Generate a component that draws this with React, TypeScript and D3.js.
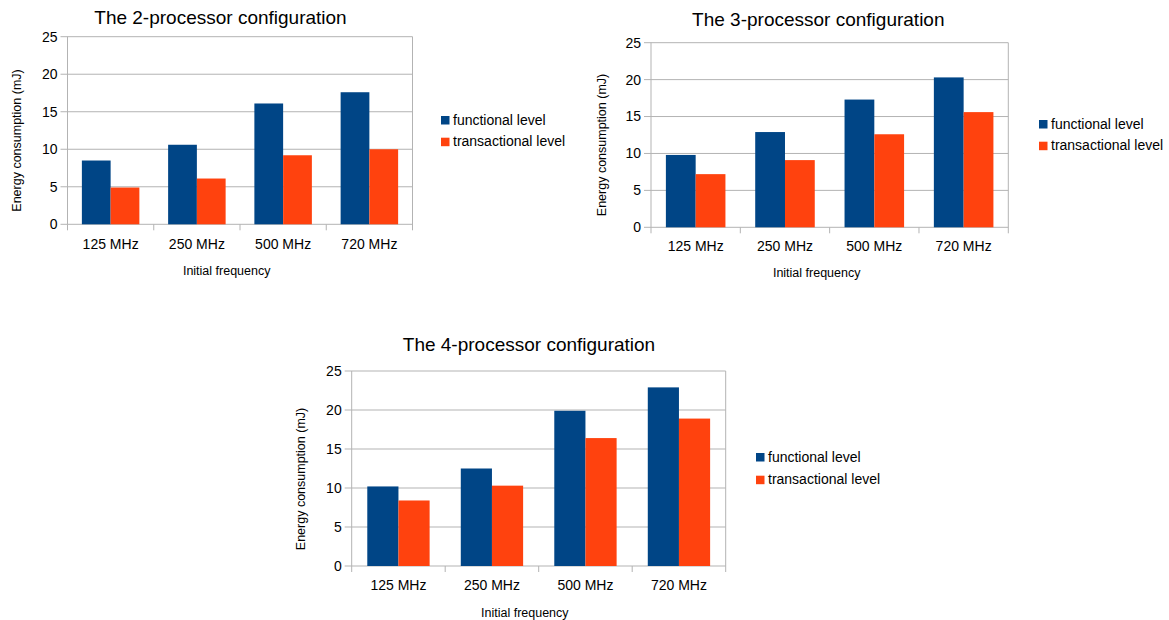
import React from "react";
import * as d3 from "d3";

const categories = ["125 MHz", "250 MHz", "500 MHz", "720 MHz"];
const seriesNames = ["functional level", "transactional level"];
const seriesColors = ["#004586", "#ff420e"];
const yTicks = [0, 5, 10, 15, 20, 25];

const titles = [
  "The 2-processor configuration",
  "The 3-processor configuration",
  "The 4-processor configuration",
];

const functional2 = [8.5, 10.6, 16.1, 17.6];
const transactional2 = [4.9, 6.1, 9.2, 10.0];
const functional3 = [9.8, 12.9, 17.3, 20.3];
const transactional3 = [7.2, 9.1, 12.6, 15.6];
const functional4 = [10.2, 12.5, 19.9, 22.9];
const transactional4 = [8.4, 10.3, 16.4, 18.9];

const yTitle = "Energy consumption (mJ)";
const xTitle = "Initial frequency";

const FONT = "'Liberation Sans', Arial, sans-serif";

type Layout = {
  x0: number; x1: number; yTop: number; yBot: number;
  titleX: number; titleY: number;
  yTitleX: number; yTitleY: number;
  xTitleX: number; xTitleY: number;
  catY: number;
  legX: number; legY: number; legRow: number;
};

const layouts: Layout[] = [
  { x0: 67.5, x1: 412.5, yTop: 36.7, yBot: 224.3, titleX: 220.5, titleY: 23.5,
    yTitleX: 17, yTitleY: 140.5, xTitleX: 226.7, xTitleY: 275, catY: 249,
    legX: 441, legY: 116, legRow: 21.7 },
  { x0: 651, x1: 1008.3, yTop: 42.7, yBot: 227.3, titleX: 818.3, titleY: 26,
    yTitleX: 601.7, yTitleY: 145, xTitleX: 816.7, xTitleY: 276.7, catY: 250.7,
    legX: 1039, legY: 120, legRow: 21.7 },
  { x0: 351.7, x1: 725.7, yTop: 371, yBot: 566, titleX: 529, titleY: 351,
    yTitleX: 300.7, yTitleY: 479, xTitleX: 524.8, xTitleY: 616.7, catY: 590,
    legX: 756, legY: 453, legRow: 22.7 },
];

const dataSets = [
  [functional2, transactional2],
  [functional3, transactional3],
  [functional4, transactional4],
];

function Chart({ layout, series, title }: { layout: Layout; series: number[][]; title: string }) {
  const L = layout;
  const x = d3.scaleBand<string>().domain(categories).range([L.x0, L.x1]).paddingInner(1 / 3).paddingOuter(1 / 6);
  const step = x.step();
  const xs = d3.scaleBand<number>().domain(d3.range(series.length)).range([0, x.bandwidth()]);
  const y = d3.scaleLinear().domain([0, 25]).range([L.yBot, L.yTop]);
  const grid = "#b3b3b3";
  return (
    <g fontFamily={FONT}>
      <text x={L.titleX} y={L.titleY} fontSize={19} textAnchor="middle" fill="#000">{title}</text>
      {yTicks.map((t) => (
        <g key={t}>
          <line x1={L.x0 - 7} x2={L.x1} y1={y(t)} y2={y(t)} stroke={grid} strokeWidth={1} />
          <text x={L.x0 - 10} y={y(t)} dy="0.35em" fontSize={14} textAnchor="end" fill="#000">{t}</text>
        </g>
      ))}
      <line x1={L.x0} x2={L.x0} y1={L.yTop} y2={L.yBot} stroke={grid} />
      <line x1={L.x1} x2={L.x1} y1={L.yTop} y2={L.yBot + 6} stroke={grid} />
      {categories.map((c, i) => (
        <line key={"tk" + c} x1={L.x0 + i * step} x2={L.x0 + i * step} y1={L.yBot} y2={L.yBot + 6} stroke={grid} />
      ))}
      {categories.map((c, i) =>
        series.map((s, k) => (
          <rect key={c + k} x={(x(c) as number) + (xs(k) as number)} width={xs.bandwidth()}
            y={y(s[i])} height={y(0) - y(s[i])} fill={seriesColors[k]} />
        ))
      )}
      {categories.map((c) => (
        <text key={"cl" + c} x={(x(c) as number) + x.bandwidth() / 2} y={L.catY} fontSize={14} textAnchor="middle" fill="#000">{c}</text>
      ))}
      <text x={L.xTitleX} y={L.xTitleY} fontSize={12.5} textAnchor="middle" fill="#000">{xTitle}</text>
      <text transform={`translate(${L.yTitleX},${L.yTitleY}) rotate(-90)`} dy="0.35em" fontSize={12.5} textAnchor="middle" fill="#000">{yTitle}</text>
      {seriesNames.map((n, k) => (
        <g key={n}>
          <rect x={L.legX} y={L.legY + k * L.legRow} width={8.5} height={8.5} fill={seriesColors[k]} />
          <text x={L.legX + 12} y={L.legY + k * L.legRow + 8.5} fontSize={14} fill="#000">{n}</text>
        </g>
      ))}
    </g>
  );
}

export default function App() {
  return (
    <svg width={1169} height={620} style={{ position: "absolute", left: 0, top: 0, background: "#fff" }}>
      <rect width={1169} height={620} fill="#fff" />
      {layouts.map((l, i) => (
        <Chart key={i} layout={l} series={dataSets[i]} title={titles[i]} />
      ))}
    </svg>
  );
}
